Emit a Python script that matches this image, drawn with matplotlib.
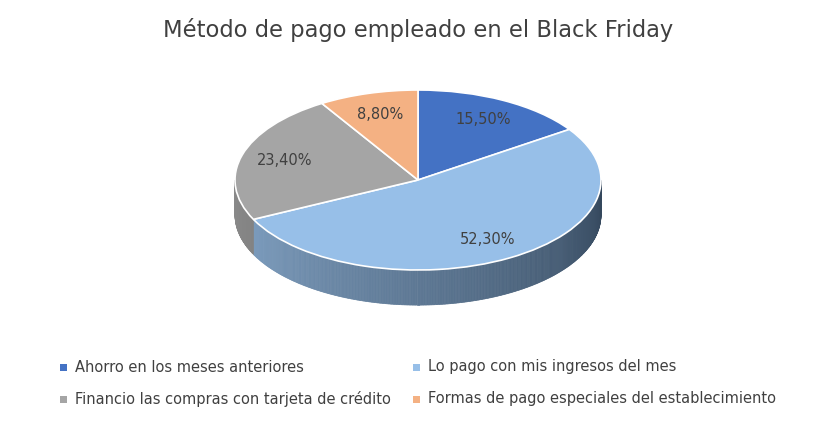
import numpy as np
import matplotlib
matplotlib.use("Agg")
import matplotlib.pyplot as plt
from matplotlib.patches import Polygon

labels = ["Ahorro en los meses anteriores", "Lo pago con mis ingresos del mes",
          "Financio las compras con tarjeta de crédito", "Formas de pago especiales del establecimiento"]
values = [15.5, 52.3, 23.4, 8.8]
colors = ["#4472C4", "#97BFE8", "#A5A5A5", "#F4B183"]
side_light = ["#3a5a9a", "#87a9cc", "#8a8a8a", "#c98f5e"]
side_dark = ["#223a66", "#34475c", "#5a5a5a", "#8a5a35"]

W, H = 837, 422
fig = plt.figure(figsize=(W / 100, H / 100), dpi=100)
fig.patch.set_facecolor("white")

cx, cy, rx, ry = 418, 180, 183, 90
xl, yt, yb = 1.1, 1.1, 1.6
ax = fig.add_axes([(cx - xl * rx) / W, 1 - (cy + yb * ry) / H, 2 * xl * rx / W, (yt + yb) * ry / H])

wedges, texts, autotexts = ax.pie(
    values, colors=colors, startangle=90, counterclock=False,
    autopct=lambda p: f"{p:.2f}%".replace(".", ","), pctdistance=0.76,
    wedgeprops=dict(edgecolor="white", linewidth=1.2),
    textprops=dict(fontsize=10.5, color="#404040"))
for w in wedges:
    w.set_zorder(3)
for t in autotexts:
    t.set_zorder(4)

# side of the 3D disc (front half only)
depth = 0.39
bounds = 90 - np.cumsum([0] + values) / 100 * 360
for i in range(len(values)):
    a0, a1 = bounds[i + 1], bounds[i]
    for l, h in [(max(a0, -180), min(a1, 0)), (max(a0 + 360, -180), min(a1 + 360, 0)),
                 (max(a0 - 360, -180), min(a1 - 360, 0))]:
        if h <= l:
            continue
        edges = np.linspace(l, h, int((h - l) * 2) + 2)
        c1 = np.array(matplotlib.colors.to_rgb(side_light[i]))
        c2 = np.array(matplotlib.colors.to_rgb(side_dark[i]))
        for e0, e1 in zip(edges[:-1], edges[1:]):
            f = (-(e0 + e1) / 2) / 180.0  # 1 at left, 0 at right
            col = c2 + (c1 - c2) * f
            t = np.radians([e0, e1])
            pts = [(np.cos(t[0]), np.sin(t[0])), (np.cos(t[1]), np.sin(t[1])),
                   (np.cos(t[1]), np.sin(t[1]) - depth), (np.cos(t[0]), np.sin(t[0]) - depth)]
            ax.add_patch(Polygon(pts, closed=True, facecolor=col, edgecolor=col, lw=0.5, zorder=2))

ax.set_aspect("auto")
ax.set_xlim(-xl, xl)
ax.set_ylim(-yb, yt)
ax.axis("off")

fig.text(cx / W, 1 - 30 / H, "Método de pago empleado en el Black Friday",
         ha="center", va="center", fontsize=16.3, color="#404040")

pos = [(64, 367), (417, 367), (64, 399), (417, 399)]
for (x, y), lab, c in zip(pos, labels, colors):
    fig.patches.append(matplotlib.patches.Rectangle(((x - 4) / W, 1 - (y + 4) / H), 7 / W, 7 / H,
                                                    facecolor=c, transform=fig.transFigure))
    fig.text((x + 11) / W, 1 - y / H, lab, ha="left", va="center", fontsize=10.5, color="#404040")

fig.savefig("out.png", dpi=100)
